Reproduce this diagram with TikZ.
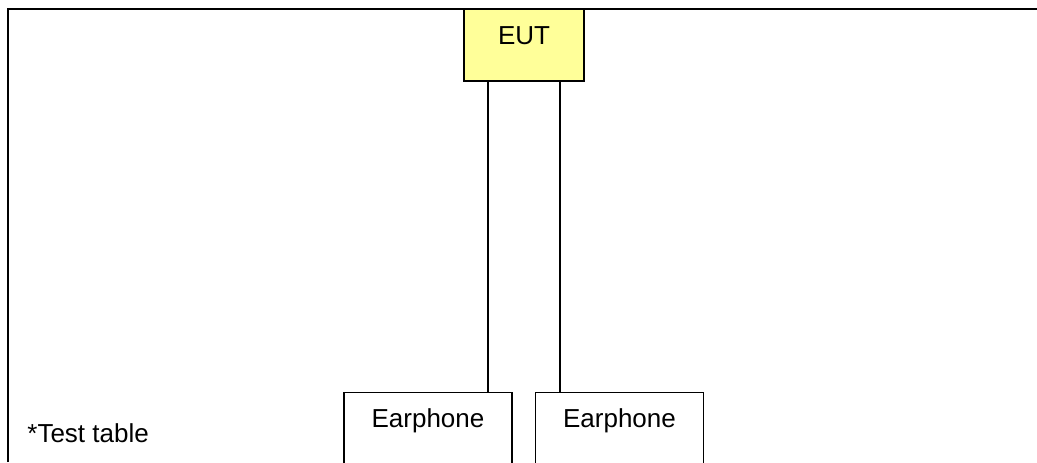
\documentclass[tikz,border=0pt]{standalone}
\usepackage{fontspec}
\setmainfont{Liberation Sans}
\usetikzlibrary{positioning}
\definecolor{eutyellow}{HTML}{FFFF99}
\tikzset{% 
	thin line/.style = {line width = 0.8pt},
	eut/.style = {name = #1, rectangle, draw, thin line, fill = eutyellow, minimum width = 60pt, minimum height = 36pt, inner sep = 0pt, label = {[yshift = 4.5pt]center:EUT}},
	phone/.style = {name = #1, rectangle, draw, thin line, fill = white, minimum width = 84pt, minimum height = 45pt, inner sep = 0pt, label = {[yshift = 8.25pt]center:Earphone}}
}

\begin{document}
\begin{tikzpicture}[x=0.5pt, y=0.5pt, font=\fontsize{13}{15}\selectfont]
			\clip (0,0) rectangle (1037,462);
			\coordinate (bl) at (8,0);
			\coordinate (tl) at (8,453);
			\coordinate (tr) at (1037,453);
			\draw [thin line] (bl) -- (tl) -- (tr);
			\node [eut = {EUT}] at (524,417) {};
			\node [phone = {P1}] at (428,24.5) {};
			\node [phone = {P2}] at (619.5,24.5) {};
			\node [anchor = west, inner sep = 0pt] (note) at (27,29) {*Test table};
			\draw [thin line] ([xshift = -18pt]EUT.south) -- ([xshift = -18pt]EUT.south |- P1.north);
			\draw [thin line] ([xshift = 18pt]EUT.south) -- ([xshift = 18pt]EUT.south |- P2.north);
\end{tikzpicture}
\end{document}
